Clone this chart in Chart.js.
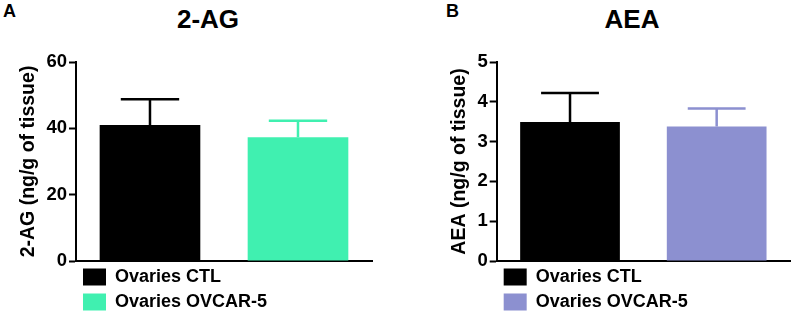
<!DOCTYPE html>
<html>
<head>
<meta charset="utf-8">
<script src="https://cdn.jsdelivr.net/npm/chart.js@4.4.0/dist/chart.umd.min.js"></script>
<style>
    html, body { margin: 0; padding: 0; background: #fff; }
    body { width: 796px; height: 312px; position: relative; overflow: hidden; font-family: 'Liberation Sans', Arial, sans-serif; }
    .panel { position: absolute; top: 0; height: 312px; }
    .letter { position: absolute; font-weight: bold; font-size: 18px; color: #000; }
    .title { position: absolute; font-weight: bold; font-size: 26px; color: #000; transform: translateX(-50%); white-space: nowrap; }
</style>
</head>
<body>
<div class="letter" style="left:3px; top:1px;">A</div>
<div class="title" style="left:208px; top:4px;">2-AG</div>
<div class="letter" style="left:446px; top:1px;">B</div>
<div class="title" style="left:632px; top:4px;">AEA</div>
<div class="panel" style="left:0; width:398px;"><canvas id="chartAG"></canvas></div>
<div class="panel" style="left:398px; width:398px;"><canvas id="chartAEA"></canvas></div>
<script>
// Groups / legend labels
const groups = ['Ovaries CTL', 'Ovaries OVCAR-5'];

// 2-AG (ng/g of tissue)
const agMeans = [41, 37.3];
const agErrors = [7.8, 5.0];
const agTicks = [0, 20, 40, 60];
const agColors = ['#000000', '#40f0b0'];

// AEA (ng/g of tissue)
const aeaMeans = [3.49, 3.38];
const aeaErrors = [0.73, 0.45];
const aeaTicks = [0, 1, 2, 3, 4, 5];
const aeaColors = ['#000000', '#8c90d0'];

const FONT = "'Liberation Sans', Arial, sans-serif";

// Error bars (upper side only) drawn through the chart's own scales
const errorBarPlugin = {
    id: 'errorBars',
    afterDatasetsDraw(chart, args, opts) {
        const ctx = chart.ctx;
        const yScale = chart.scales.y;
        chart.data.datasets.forEach((ds, i) => {
            const meta = chart.getDatasetMeta(i);
            meta.data.forEach((bar, j) => {
                const top = yScale.getPixelForValue(ds.data[j] + opts.errors[i]);
                const base = yScale.getPixelForValue(ds.data[j]);
                const half = bar.width * 0.29;
                ctx.save();
                ctx.strokeStyle = ds.backgroundColor;
                ctx.lineWidth = 2.5;
                ctx.beginPath();
                ctx.moveTo(bar.x, base);
                ctx.lineTo(bar.x, top);
                ctx.moveTo(bar.x - half, top);
                ctx.lineTo(bar.x + half, top);
                ctx.stroke();
                ctx.restore();
            });
        });
    }
};

function makeChart(id, title, means, errors, ticks, colors, padding) {
    const ctx = document.getElementById(id).getContext('2d');
    return new Chart(ctx, {
        type: 'bar',
        data: {
            labels: [''],
            datasets: groups.map((g, i) => ({
                label: g,
                data: [means[i]],
                backgroundColor: colors[i],
                borderWidth: 0,
                barPercentage: 0.68,
                categoryPercentage: 1.0
            }))
        },
        options: {
            responsive: true,
            maintainAspectRatio: false,
            animation: false,
            layout: { padding: padding },
            plugins: {
                legend: {
                    display: true,
                    position: 'bottom',
                    align: 'start',
                    fullSize: false,
                    labels: {
                        boxWidth: 23,
                        boxHeight: 17,
                        padding: 7,
                        color: '#000',
                        font: { family: FONT, size: 18, weight: 'bold' }
                    }
                },
                tooltip: { enabled: false },
                errorBars: { errors: errors }
            },
            scales: {
                x: {
                    ticks: { display: false },
                    grid: { display: false, drawTicks: false },
                    border: { display: true, color: '#000', width: 2 }
                },
                y: {
                    min: ticks[0],
                    max: ticks[ticks.length - 1],
                    afterBuildTicks: (scale) => {
                        scale.ticks = ticks.map(v => ({ value: v }));
                    },
                    ticks: {
                        color: '#000',
                        padding: 2,
                        font: { family: FONT, size: 18.5, weight: 'bold' }
                    },
                    grid: {
                        drawOnChartArea: false,
                        drawTicks: true,
                        tickLength: 7,
                        tickWidth: 2,
                        tickColor: '#000'
                    },
                    border: { display: true, color: '#000', width: 2 },
                    title: {
                        display: true,
                        text: title,
                        color: '#000',
                        padding: { top: 0, bottom: 4 },
                        font: { family: FONT, size: 19.5, weight: 'bold' }
                    }
                }
            }
        },
        plugins: [errorBarPlugin]
    });
}

makeChart('chartAG', '2-AG (ng/g of tissue)', agMeans, agErrors, agTicks, agColors,
    { top: 62, left: 17, right: 26, bottom: -9 });
makeChart('chartAEA', 'AEA (ng/g of tissue)', aeaMeans, aeaErrors, aeaTicks, aeaColors,
    { top: 62, left: 50, right: 6, bottom: -9 });
</script>
</body>
</html>
